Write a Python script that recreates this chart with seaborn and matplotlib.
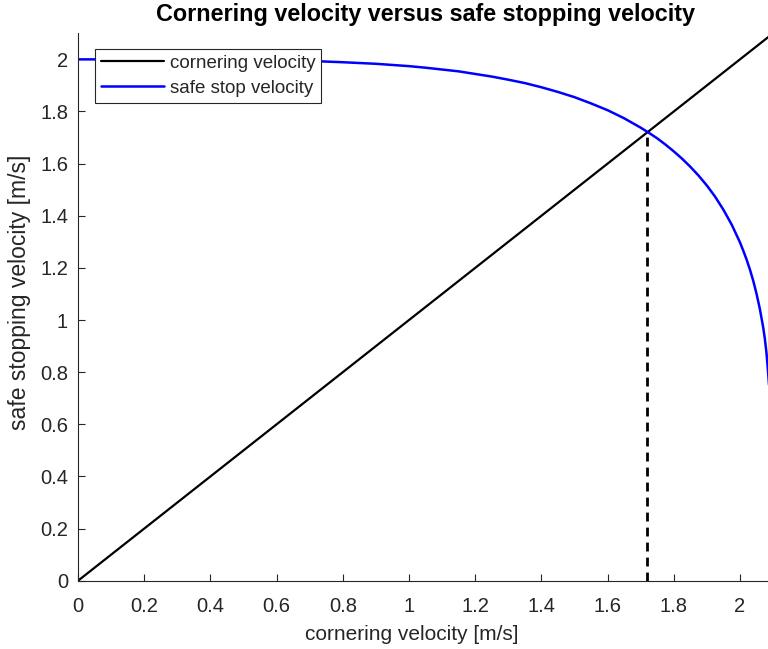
import matplotlib
matplotlib.use("Agg")
import matplotlib.pyplot as plt
import seaborn as sns
import pandas as pd

# Cornering velocity line (v_stop = v_corner)
corner_x = [0.0, 2.1]
corner_y = [0.0, 2.1]

# Safe stopping velocity as a function of cornering velocity
stop_x = [0.0, 0.2, 0.4, 0.5, 0.6, 0.7, 0.8, 0.9, 1.0, 1.05, 1.1, 1.15, 1.2,
          1.25, 1.3, 1.35, 1.4, 1.45, 1.5, 1.55, 1.6, 1.65, 1.7, 1.725, 1.75,
          1.775, 1.8, 1.825, 1.85, 1.875, 1.9, 1.925, 1.95, 1.975, 2.0, 2.01,
          2.02, 2.03, 2.04, 2.05, 2.06, 2.07, 2.075, 2.08, 2.085, 2.09]
stop_y = [2.000, 2.000, 1.999, 1.998, 1.997, 1.994, 1.989, 1.983, 1.974,
          1.968, 1.961, 1.954, 1.944, 1.934, 1.922, 1.909, 1.893, 1.875,
          1.855, 1.831, 1.805, 1.774, 1.738, 1.718, 1.697, 1.673, 1.647,
          1.619, 1.588, 1.554, 1.516, 1.473, 1.423, 1.366, 1.298, 1.266,
          1.232, 1.194, 1.151, 1.101, 1.043, 0.973, 0.930, 0.875, 0.800, 0.710]

# Intersection of the two curves
v_intersect = 1.72

x_ticks = [0, 0.2, 0.4, 0.6, 0.8, 1.0, 1.2, 1.4, 1.6, 1.8, 2.0]
x_tick_labels = ["0", "0.2", "0.4", "0.6", "0.8", "1", "1.2", "1.4", "1.6", "1.8", "2"]
y_ticks = [0, 0.2, 0.4, 0.6, 0.8, 1.0, 1.2, 1.4, 1.6, 1.8, 2.0]
y_tick_labels = ["0", "0.2", "0.4", "0.6", "0.8", "1", "1.2", "1.4", "1.6", "1.8", "2"]

sns.set_theme(style="white")
plt.rcParams["font.family"] = ["Liberation Sans", "DejaVu Sans"]

fig = plt.figure(figsize=(7.68, 6.49), dpi=100)
ax = fig.add_axes([0.1016, 0.1052, 0.905, 0.8435])

corner_df = pd.DataFrame({"x": corner_x, "y": corner_y})
stop_df = pd.DataFrame({"x": stop_x, "y": stop_y})
drop_df = pd.DataFrame({"x": [v_intersect, v_intersect], "y": [0.0, v_intersect]})

sns.lineplot(data=corner_df, x="x", y="y", ax=ax, color="black", linewidth=1.6,
             label="cornering velocity", sort=False, estimator=None)
sns.lineplot(data=stop_df, x="x", y="y", ax=ax, color="#0000ff", linewidth=1.8,
             label="safe stop velocity", sort=False, estimator=None)
sns.lineplot(data=drop_df, x="x", y="y", ax=ax, color="black", linewidth=2.0,
             linestyle=(0, (3.2, 2.2)), sort=False, estimator=None, legend=False)

ax.set_xlim(0, 2.1)
ax.set_ylim(0, 2.1)
ax.set_xticks(x_ticks)
ax.set_xticklabels(x_tick_labels)
ax.set_yticks(y_ticks)
ax.set_yticklabels(y_tick_labels)

axis_color = "#262626"
for side in ["top", "right"]:
    ax.spines[side].set_visible(False)
for side in ["left", "bottom"]:
    ax.spines[side].set_color(axis_color)
    ax.spines[side].set_linewidth(0.8)

ax.tick_params(axis="both", direction="in", length=5, width=0.8, color=axis_color,
               labelsize=14.5, labelcolor=axis_color, bottom=True, left=True)
ax.tick_params(axis="x", pad=11.5)
ax.tick_params(axis="y", pad=7.2)

ax.set_xlabel("cornering velocity [m/s]", fontsize=15, color=axis_color)
ax.set_ylabel("safe stopping velocity [m/s]", fontsize=16.5, color=axis_color)
ax.xaxis.set_label_coords(0.48, -0.08)
ax.yaxis.set_label_coords(-0.067, 0.5265)
ax.set_title("Cornering velocity versus safe stopping velocity", fontsize=16.8,
             fontweight="bold", color="black", pad=9)

leg = ax.legend(loc="upper left", bbox_to_anchor=(0.0245, 0.971), fontsize=13.5,
                frameon=True, fancybox=False, shadow=False, borderpad=0.3,
                handlelength=3.36, handletextpad=0.32, labelspacing=0.42,
                borderaxespad=0.0)
leg.get_frame().set_edgecolor(axis_color)
leg.get_frame().set_linewidth(0.8)
leg.get_frame().set_facecolor("white")
leg.get_frame().set_alpha(1.0)

fig.savefig("out.png", dpi=100)
